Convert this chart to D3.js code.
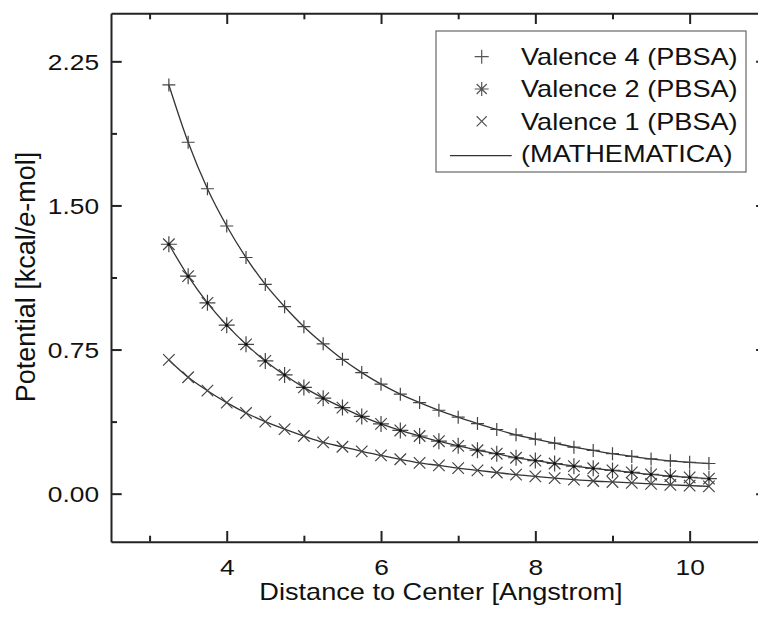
<!DOCTYPE html>
<html>
<head>
<meta charset="utf-8">
<script src="https://cdn.jsdelivr.net/npm/d3@7"></script>
<style>
  body { margin: 0; background: #fff; }
  svg { display: block; font-family: "Liberation Sans", Arial, sans-serif; }
  .axis path, .axis line { stroke: #222; }
  .axis text { font-size: 22.3px; fill: #111; }
</style>
</head>
<body>
<svg id="chart" width="758" height="618"></svg>
<script>
// distances (Angstrom) where the PBSA points were taken
var distance = [3.25, 3.5, 3.75, 4.0, 4.25, 4.5, 4.75, 5.0, 5.25, 5.5, 5.75, 6.0, 6.25, 6.5, 6.75,
  7.0, 7.25, 7.5, 7.75, 8.0, 8.25, 8.5, 8.75, 9.0, 9.25, 9.5, 9.75, 10.0, 10.25];

// potential, kcal/e-mol
var valence4 = [2.127, 1.829, 1.587, 1.393, 1.229, 1.089, 0.973, 0.869, 0.780, 0.699, 0.630, 0.570,
  0.518, 0.474, 0.434, 0.398, 0.365, 0.334, 0.306, 0.284, 0.263, 0.242, 0.225, 0.208, 0.194, 0.181,
  0.171, 0.163, 0.157];
var valence2 = [1.298, 1.132, 0.993, 0.877, 0.777, 0.691, 0.618, 0.553, 0.497, 0.448, 0.402, 0.363,
  0.329, 0.300, 0.273, 0.249, 0.226, 0.208, 0.187, 0.172, 0.157, 0.143, 0.132, 0.121, 0.111, 0.100,
  0.091, 0.085, 0.078];
var valence1 = [0.696, 0.606, 0.536, 0.474, 0.420, 0.375, 0.336, 0.300, 0.267, 0.244, 0.220, 0.199,
  0.179, 0.160, 0.147, 0.133, 0.121, 0.110, 0.099, 0.090, 0.081, 0.073, 0.066, 0.061, 0.056, 0.051,
  0.046, 0.042, 0.038];

var xTicks = [4, 6, 8, 10];
var xMinor = [3, 5, 7, 9, 11];
var yTicks = [0, 0.75, 1.5, 2.25];
var yMinor = [0.375, 1.125, 1.875];

var legendNames = ["Valence 4 (PBSA)", "Valence 2 (PBSA)", "Valence 1 (PBSA)", "(MATHEMATICA)"];

var SX = 1.18;   // the original figure is a bit wider than tall, text included
var ink = "#333";

var svg = d3.select("#chart");

var x = d3.scaleLinear().domain([2.5, 11]).range([111, 766.8]);
var y = d3.scaleLinear().domain([-0.25, 2.5]).range([541.7, 13.3]);

var series = [
  {name: legendNames[0], vals: valence4, sym: "plus"},
  {name: legendNames[1], vals: valence2, sym: "star"},
  {name: legendNames[2], vals: valence1, sym: "cross"}
];

// symbol paths, drawn centred on 0,0
function symPath(sym, r) {
  var p = d3.path();
  if (sym == "plus" || sym == "star") {
    p.moveTo(-r, 0); p.lineTo(r, 0);
    p.moveTo(0, -r); p.lineTo(0, r);
  }
  if (sym == "cross" || sym == "star") {
    var d = r * 0.72;
    p.moveTo(-d, -d); p.lineTo(d, d);
    p.moveTo(-d, d); p.lineTo(d, -d);
  }
  return p.toString();
}

// curves
var line = d3.line()
  .x(function(d) { return x(d[0]); })
  .y(function(d) { return y(d[1]); })
  .curve(d3.curveMonotoneX);

series.forEach(function(s) {
  var pts = distance.map(function(d, i) { return [d, s.vals[i]]; });
  svg.append("path")
    .datum(pts)
    .attr("d", line)
    .attr("fill", "none")
    .attr("stroke", ink)
    .attr("stroke-width", 1.3);
  svg.append("g").selectAll("path")
    .data(pts)
    .join("path")
    .attr("transform", function(d) { return "translate(" + x(d[0]) + "," + y(d[1]) + ")"; })
    .attr("d", symPath(s.sym, s.sym == "plus" ? 6.5 : 8))
    .attr("fill", "none")
    .attr("stroke", "#444")
    .attr("stroke-width", 1.2);
  if (s.sym == "star") {
    svg.append("g").selectAll("circle")
      .data(pts).join("circle")
      .attr("cx", function(d) { return x(d[0]); })
      .attr("cy", function(d) { return y(d[1]); })
      .attr("r", 1.5)
      .attr("fill", "#111");
  }
});

// axes: major + minor, ticks pointing inward, mirrored on top and right
function frame(axis, tr, vals, len, labels) {
  var g = svg.append("g").attr("class", "axis").attr("transform", tr);
  g.call(axis.tickValues(vals).tickSizeInner(-len).tickSizeOuter(0));
  g.select(".domain").attr("stroke-width", 2);
  g.selectAll(".tick line").attr("stroke-width", 2);
  if (!labels) g.selectAll("text").remove();
  return g;
}

var gx = frame(d3.axisBottom(x).tickPadding(17.5).tickFormat(d3.format("d")),
  "translate(0," + y(-0.25) + ")", xTicks, 10.7, true);
gx.selectAll("text").attr("transform", "scale(" + SX + ",1)");
frame(d3.axisBottom(x).tickFormat(""), "translate(0," + y(-0.25) + ")", xMinor, 6, false)
  .select(".domain").remove();
frame(d3.axisTop(x).tickFormat(""), "translate(0," + y(2.5) + ")", xTicks, 10.7, false);
frame(d3.axisTop(x).tickFormat(""), "translate(0," + y(2.5) + ")", xMinor, 6, false)
  .select(".domain").remove();

var gy = frame(d3.axisLeft(y).tickPadding(12).tickFormat(d3.format(".2f")),
  "translate(" + x(2.5) + ",0)", yTicks, 10.7, true);
gy.selectAll("text")
  .attr("x", -12 / SX)
  .attr("dy", "0.36em")
  .attr("transform", "scale(" + SX + ",1)");
frame(d3.axisLeft(y).tickFormat(""), "translate(" + x(2.5) + ",0)", yMinor, 6, false)
  .select(".domain").remove();
frame(d3.axisRight(y).tickFormat(""), "translate(" + x(11) + ",0)", yTicks, 10.7, false);
frame(d3.axisRight(y).tickFormat(""), "translate(" + x(11) + ",0)", yMinor, 6, false)
  .select(".domain").remove();

// axis titles
svg.append("text")
  .attr("transform", "translate(441,600) scale(" + SX + ",1)")
  .attr("text-anchor", "middle")
  .attr("font-size", "23px")
  .attr("fill", "#111")
  .text("Distance to Center [Angstrom]");

var yl = svg.append("text")
  .attr("transform", "translate(35,277) rotate(-90)")
  .attr("text-anchor", "middle")
  .attr("font-size", "27px")
  .attr("fill", "#111");
yl.append("tspan").text("Potential [kcal/");
yl.append("tspan").attr("font-style", "italic").text("e");
yl.append("tspan").text("-mol]");

// legend
var leg = svg.append("g");
leg.append("rect")
  .attr("x", 436).attr("y", 31)
  .attr("width", 310).attr("height", 141)
  .attr("fill", "#fff")
  .attr("stroke", "#666")
  .attr("stroke-width", 1.2);

legendNames.forEach(function(name, i) {
  var cy = 56.7 + i * 32.3;
  if (i < 3) {
    leg.append("path")
      .attr("transform", "translate(481.7," + cy + ")")
      .attr("d", symPath(series[i].sym, 7))
      .attr("fill", "none")
      .attr("stroke", "#555")
      .attr("stroke-width", 1.2);
  } else {
    leg.append("line")
      .attr("x1", 450).attr("x2", 511.7)
      .attr("y1", cy + 2).attr("y2", cy + 2)
      .attr("stroke", ink)
      .attr("stroke-width", 1.3);
  }
  leg.append("text")
    .attr("transform", "translate(521," + (cy + 8.3) + ") scale(" + SX + ",1)")
    .attr("font-size", "23px")
    .attr("fill", "#111")
    .text(name);
});
</script>
</body>
</html>
